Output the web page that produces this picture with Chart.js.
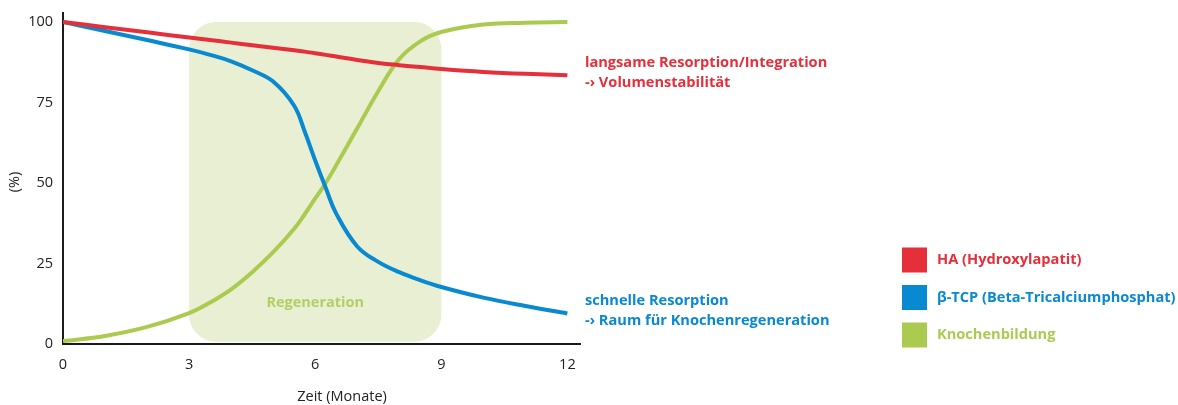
<!DOCTYPE html>
<html lang="de">
<head>
<meta charset="utf-8">
<title>Resorption und Knochenbildung</title>
<script src="https://cdn.jsdelivr.net/npm/chart.js@4/dist/chart.umd.min.js"></script>
<style>
  html, body { margin: 0; padding: 0; background: #fff; }
  #wrap { position: relative; width: 1178px; height: 405px; }
</style>
</head>
<body>
<div id="wrap"><canvas id="line-chart"></canvas></div>
<script>
// data (months -> percent)
const months = [0, 1, 2, 3, 3.5, 4, 4.5, 5, 5.5, 5.75, 6, 6.25, 6.5, 7, 7.5, 8, 8.5, 9, 10, 11, 12];
const haValues = [100, 98.4, 96.8, 95.2, 94.4, 93.6, 92.8, 92, 91.2, 90.8, 90.3, 89.8, 89.3, 88.2, 87.3, 86.6, 86, 85.4, 84.5, 83.9, 83.5];
const tcpValues = [100, 97.2, 94.4, 91.5, 89.8, 87.8, 85, 81.5, 74, 66, 57, 48.5, 40.5, 30.3, 25.5, 22.3, 19.8, 17.7, 14.4, 11.8, 9.5];
const boneValues = [0.9, 2.5, 5.3, 9.6, 12.9, 17, 22.3, 28.5, 35.8, 40.3, 45.2, 50, 55.5, 67, 78.5, 88.5, 94, 96.9, 99.2, 99.8, 100];

const xTicks = [0, 3, 6, 9, 12];
const yTicks = [0, 25, 50, 75, 100];

const seriesLabels = ["HA (Hydroxylapatit)", "β-TCP (Beta-Tricalciumphosphat)", "Knochenbildung"];
const seriesColors = ["#e52f3b", "#0989d0", "#aacb50"];

const regionStart = 3; // regeneration phase
const regionEnd = 9;
const regionLabel = "Regeneration";

const haNote = ["langsame Resorption/Integration", "-› Volumenstabilität"];
const tcpNote = ["schnelle Resorption", "-› Raum für Knochenregeneration"];
const xTitle = "Zeit (Monate)";
const yTitle = "(%)";

const FONT = "'Open Sans', 'Noto Sans', sans-serif";

var toPoints = (vals) => vals.map((v, i) => ({ x: months[i], y: v }));

// draws the green box, titles, the side notes and the legend
const extras = {
  id: "extras",
  beforeDatasetsDraw(chart) {
    const { ctx, scales: { x, y } } = chart;
    const left = x.getPixelForValue(regionStart);
    const right = x.getPixelForValue(regionEnd);
    const top = y.getPixelForValue(100);
    const bottom = y.getPixelForValue(0.7);
    ctx.save();
    ctx.fillStyle = "#e8efd3";
    ctx.beginPath();
    ctx.roundRect(left, top, right - left, bottom - top, 27);
    ctx.fill();
    ctx.fillStyle = "#b2cf65";
    ctx.font = "bold 14.5px " + FONT;
    ctx.textAlign = "center";
    ctx.textBaseline = "middle";
    ctx.fillText(regionLabel, x.getPixelForValue(6), y.getPixelForValue(12.8));
    ctx.restore();
  },
  afterDraw(chart) {
    const { ctx } = chart;
    ctx.save();
    ctx.textBaseline = "middle";
    ctx.fillStyle = "#222";
    ctx.font = "14.5px " + FONT;
    ctx.textAlign = "center";
    ctx.fillText(xTitle, 342, 397);
    ctx.save();
    ctx.translate(15, 182);
    ctx.rotate(-Math.PI / 2);
    ctx.fillText(yTitle, 0, 0);
    ctx.restore();

    ctx.font = "bold 14.6px " + FONT;
    ctx.textAlign = "left";
    ctx.fillStyle = seriesColors[0];
    ctx.fillText(haNote[0], 585, 63);
    ctx.fillText(haNote[1], 585, 83);
    ctx.fillStyle = seriesColors[1];
    ctx.fillText(tcpNote[0], 585, 301);
    ctx.fillText(tcpNote[1], 585, 321);

    // legend
    seriesLabels.forEach((label, i) => {
      const cy = 260 + i * 37.5;
      ctx.fillStyle = seriesColors[i];
      ctx.fillRect(902, cy - 12.5, 25, 25);
      ctx.fillText(label, 937, cy);
    });
    ctx.restore();
  }
};

const dataset = {
  datasets: [
    {
      label: seriesLabels[2],
      data: toPoints(boneValues),
      borderColor: seriesColors[2],
      order: 3,
    }, {
      label: seriesLabels[1],
      data: toPoints(tcpValues),
      borderColor: seriesColors[1],
      order: 2,
    }, {
      label: seriesLabels[0],
      data: toPoints(haValues),
      borderColor: seriesColors[0],
      order: 1,
    }
  ],
};

const config = {
  type: "line",
  data: dataset,
  plugins: [extras],
  options: {
    responsive: true,
    maintainAspectRatio: false,
    animation: false,
    layout: { padding: { left: 0, right: 598, top: 13, bottom: 0 } },
    elements: {
      point: { radius: 0 },
      line: { borderWidth: 4, tension: 0.4, fill: false, capBezierPoints: true },
    },
    plugins: {
      legend: { display: false },
      tooltip: { enabled: false },
    },
    scales: {
      x: {
        type: "linear",
        min: 0,
        max: 12.3,
        afterBuildTicks: (s) => { s.ticks = xTicks.map(v => ({ value: v })); },
        afterFit: (s) => { s.height = 61; s.paddingLeft = 0; s.paddingRight = 0; },
        grid: { display: false, drawTicks: false },
        border: { display: true, color: "#1b1b1b", width: 2 },
        ticks: { color: "#222", padding: 12, font: { family: FONT, size: 14.5 }, maxRotation: 0 },
      },
      y: {
        min: 0,
        max: 102.8,
        afterBuildTicks: (s) => { s.ticks = yTicks.map(v => ({ value: v })); },
        afterFit: (s) => { s.width = 63; s.paddingTop = 0; s.paddingBottom = 0; },
        grid: { display: false, drawTicks: false },
        border: { display: true, color: "#1b1b1b", width: 2 },
        ticks: { color: "#222", padding: 10, font: { family: FONT, size: 14.5 } },
      },
    },
  },
};

const lineChart = new Chart(document.getElementById("line-chart").getContext("2d"), config);
</script>
</body>
</html>
